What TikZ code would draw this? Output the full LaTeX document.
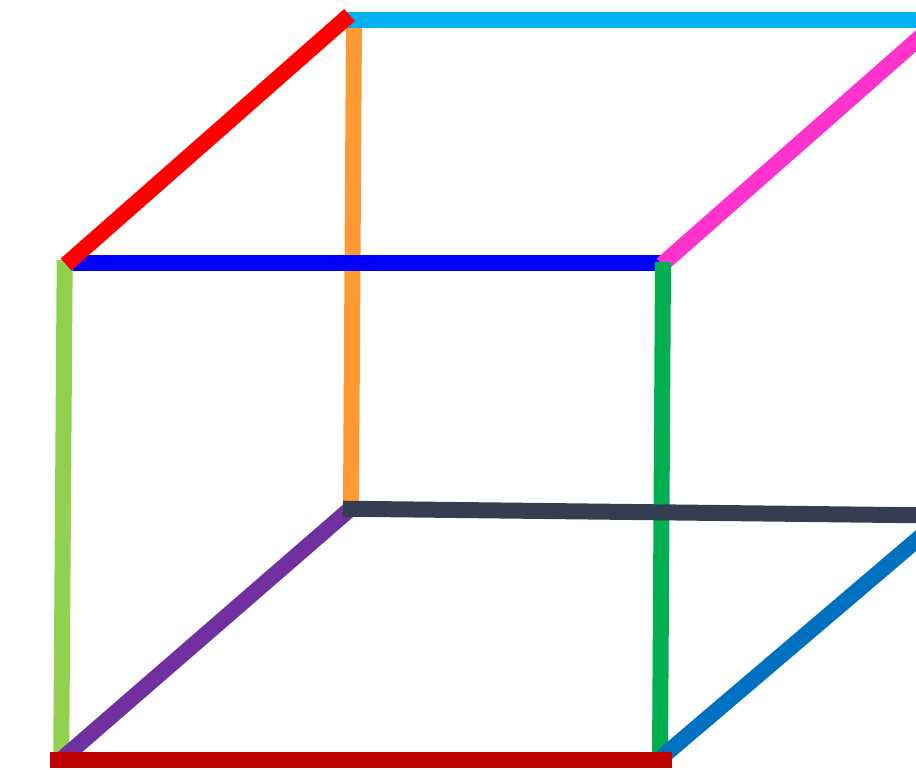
\documentclass[tikz,border=0pt]{standalone}
\definecolor{skyedge}{HTML}{00B0F0}
\definecolor{orangeedge}{HTML}{FF9933}
\definecolor{blueedge}{HTML}{0000FF}
\definecolor{rededge}{HTML}{FF0000}
\definecolor{limeedge}{HTML}{92D050}
\definecolor{pinkedge}{HTML}{FF33CC}
\definecolor{greenedge}{HTML}{00B050}
\definecolor{slateedge}{HTML}{333F50}
\definecolor{purpleedge}{HTML}{7030A0}
\definecolor{oceanedge}{HTML}{0070C0}
\definecolor{crimsonedge}{HTML}{C00000}
\tikzset{
  straight/.style={line width=16pt},
  slanted/.style={line width=16pt},
}
\begin{document}
\begin{tikzpicture}[x=1pt, y=-1pt]
  \useasboundingbox (0, 0) rectangle (916, 770);
  \clip (0, 0) rectangle (916, 770);
  \draw[straight, orangeedge] (354, 20) -- (351, 505);
  \draw[straight, skyedge] (340, 20.5) -- (930, 20.5);
  \draw[straight, blueedge] (66, 263) -- (662, 263);
  \draw[straight, limeedge] (64.7, 260) -- (61.2, 760);
  \draw[slanted, pinkedge] (662, 264.5) -- (925, 33);
  \draw[straight, greenedge] (663, 262) -- (660, 760);
  \draw[slanted, purpleedge] (349, 510) -- (62, 759);
  \draw[slanted, oceanedge] (662, 757) -- (925, 533);
  \draw[straight, slateedge] (343, 508.7) -- (930, 515.4);
  \draw[straight, rededge] (66, 264.5) -- (349.5, 15);
  \draw[straight, crimsonedge] (50, 760.3) -- (672, 760.3);
\end{tikzpicture}
\end{document}
